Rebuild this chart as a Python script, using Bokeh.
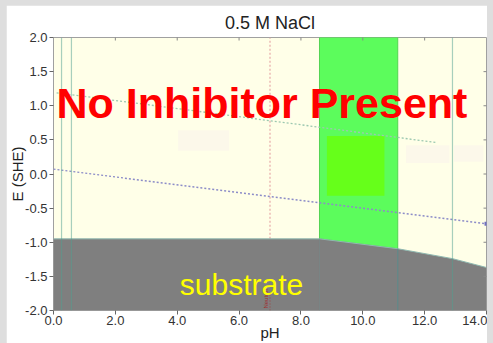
import numpy as np
from bokeh.plotting import figure
from bokeh.models import FixedTicker
from bokeh.layouts import column
from bokeh.core.properties import value
from bokeh.embed import file_html
from bokeh.resources import INLINE

# ---- data ----
title_text = "0.5 M NaCl"
ph_ticks = [0, 2, 4, 6, 8, 10, 12, 14]
ph_tick_labels = ["0.0", "2.0", "4.0", "6.0", "8.0", "10.0", "12.0", "14.0"]
e_ticks = [-2.0, -1.5, -1.0, -0.5, 0.0, 0.5, 1.0, 1.5, 2.0]
e_tick_labels = ["-2.0", "-1.5", "-1.0", "-0.5", "0.0", "0.5", "1.0", "1.5", "2.0"]

substrate_ph = [0.0, 8.6, 11.13, 12.9, 14.0]
substrate_e = [-0.95, -0.95, -1.095, -1.24, -1.37]

passive_ph = [8.6, 11.13]
passive_core_ph = [8.84, 10.7]
passive_core_e = [-0.32, 0.555]

water_upper_ph = [0.1, 12.4]
water_upper_e = [1.19, 0.46]
water_lower_ph = [0.0, 14.0]
water_lower_e = [0.07, -0.73]

faint_ph_left = [4.03, 11.4, 12.95]
faint_ph_right = [5.68, 12.8, 13.9]
faint_e_bottom = [0.34, 0.16, 0.18]
faint_e_top = [0.64, 0.42, 0.42]

boundary_lines_ph = [0.26, 0.58, 12.9]
neutral_ph = 7.0

E_MIN, E_MAX = -2.0, 2.0
PH_MIN, PH_MAX = 0.0, 14.0

p = figure(width=481, height=338, x_range=(PH_MIN, PH_MAX), y_range=(E_MIN, E_MAX),
           output_backend="svg", toolbar_location=None,
           min_border_left=46, min_border_right=1, min_border_top=32, min_border_bottom=32,
           background_fill_color="#ffffe8", border_fill_color="white",
           outline_line_color="#a0a0a0")
p.margin = (5, 6, 0, 6)
p.grid.visible = False

p.title.text = title_text
p.title.align = "center"
p.title.offset = -6
p.title.text_font = "Liberation Sans"
p.title.text_font_size = "18px"
p.title.text_font_style = "normal"
p.title.text_color = "#222222"

for ax in (p.xaxis[0], p.yaxis[0]):
    ax.axis_line_color = None
    ax.major_tick_line_color = "#666666"
    ax.minor_tick_line_color = None
    ax.major_tick_in = 0
    ax.major_tick_out = 4
    ax.major_label_text_font = "Liberation Sans"
    ax.major_label_text_font_size = "13px"
    ax.major_label_text_color = "#333333"
    ax.axis_label_text_font = "Liberation Sans"
    ax.axis_label_text_font_size = "15px"
    ax.axis_label_text_font_style = "normal"
    ax.axis_label_text_color = "#222222"

p.xaxis[0].ticker = FixedTicker(ticks=ph_ticks)
p.xaxis[0].major_label_overrides = {t: l for t, l in zip(ph_ticks, ph_tick_labels)}
p.xaxis[0].major_label_standoff = 1
p.xaxis[0].axis_label = "pH"
p.xaxis[0].axis_label_standoff = -4
p.yaxis[0].ticker = FixedTicker(ticks=e_ticks)
p.yaxis[0].major_label_overrides = {t: l for t, l in zip(e_ticks, e_tick_labels)}
p.yaxis[0].major_label_standoff = 2
p.yaxis[0].axis_label = "E (SHE)"
p.yaxis[0].axis_label_standoff = -4

# faint regions
p.quad(left=faint_ph_left, right=faint_ph_right, bottom=faint_e_bottom, top=faint_e_top,
       fill_color="#fcf8ea", line_color=None)

# passive (green) band down to substrate boundary
sub_ph = np.array(substrate_ph)
sub_e = np.array(substrate_e)
band_bottom = np.interp(passive_ph, sub_ph, sub_e)
p.patch(x=[passive_ph[0], passive_ph[1], passive_ph[1], passive_ph[0]],
        y=[E_MAX, E_MAX, band_bottom[1], band_bottom[0]],
        fill_color="#5cfc5c", line_color="#52d452", line_width=1)
p.quad(left=[passive_core_ph[0]], right=[passive_core_ph[1]],
       bottom=[passive_core_e[0]], top=[passive_core_e[1]],
       fill_color="#66ff1a", line_color=None)

# pH 7 neutral dotted line above substrate
neutral_top = float(np.interp(neutral_ph, sub_ph, sub_e))
p.line(x=[neutral_ph, neutral_ph], y=[neutral_top, E_MAX], line_color="#e6a8a8",
       line_dash="2 2", line_width=1.2)

# water lines
p.line(x=water_upper_ph, y=water_upper_e, line_color="#9cc8b0", line_dash="2 2", line_width=1.3)
p.line(x=water_lower_ph, y=water_lower_e, line_color="#8c8cc8", line_dash="2 2", line_width=1.3)
p.scatter(x=[water_lower_ph[-1]], y=[water_lower_e[-1]], marker="square", size=4,
          fill_color="#7070c0", line_color=None)

# substrate region
p.patch(x=list(substrate_ph) + [PH_MAX, PH_MIN], y=list(substrate_e) + [E_MIN, E_MIN],
        fill_color="#7f7f7f", line_color=None)
p.line(x=substrate_ph, y=substrate_e, line_color="#8fb8b0", line_width=1)

# vertical boundary lines
for ph in boundary_lines_ph:
    p.line(x=[ph, ph], y=[E_MIN, E_MAX], line_color="#4fa090", line_alpha=0.5, line_width=1.2)
p.line(x=[passive_ph[1], passive_ph[1]], y=[E_MIN, float(band_bottom[1])],
       line_color="#4f9090", line_alpha=0.6, line_width=1.2)
p.line(x=[passive_ph[0], passive_ph[0]], y=[E_MIN, float(band_bottom[0])],
       line_color="#6f8f8f", line_alpha=0.35, line_width=1)
p.line(x=[neutral_ph, neutral_ph], y=[E_MIN, -1.75], line_color="#a04040",
       line_dash="1 2", line_width=1)

# inward tick marks on the top and right frame edges (half of each dash is clipped)
p.scatter(x=ph_ticks[1:-1], y=[E_MAX] * (len(ph_ticks) - 2), marker="dash", angle=np.pi / 2,
          size=6, line_color="#888888", line_width=1)
p.scatter(x=[PH_MAX] * (len(e_ticks) - 2), y=e_ticks[1:-1], marker="dash",
          size=6, line_color="#888888", line_width=1)

# texts
p.text(x=[neutral_ph - 0.12], y=[-1.83], text=["Neutral"], angle=np.pi / 2,
       text_font=value("Liberation Sans"), text_font_size="6px", text_color="#a03030",
       text_align="center", text_baseline="middle")
p.text(x=[6.74], y=[1.036], text=["No Inhibitor Present"], text_font=value("Liberation Sans"),
       text_font_size="43px", text_font_style="bold", text_color="#ff0000",
       text_align="center", text_baseline="alphabetic")
p.text(x=[6.08], y=[-1.62], text=["substrate"], text_font=value("Liberation Sans"),
       text_font_size="30px", text_color="#ffff00",
       text_align="center", text_baseline="alphabetic")

layout = column(p, width=493, height=343, styles={"background-color": "#dedede"})
open("out.html", "w").write(file_html(layout, INLINE))
